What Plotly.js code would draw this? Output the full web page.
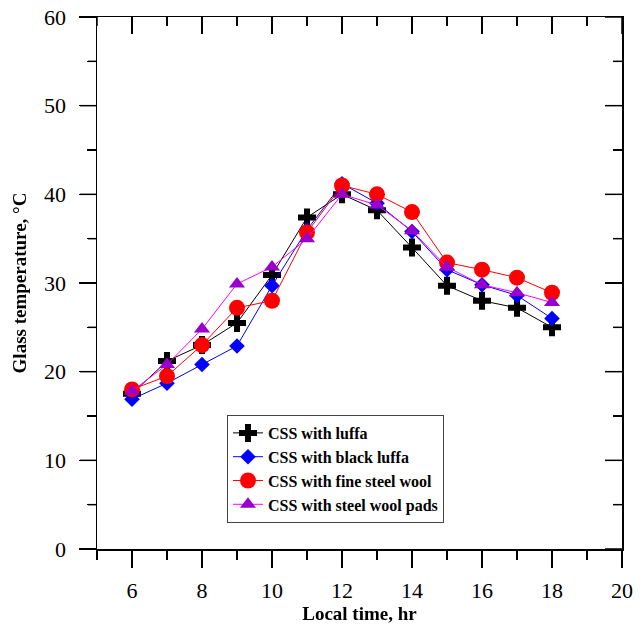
<!DOCTYPE html>
<html>
<head>
<meta charset="utf-8">
<script src="https://cdn.plot.ly/plotly-3.0.1.min.js"></script>
<style>html,body{margin:0;padding:0;background:#fff;}#chart{width:644px;height:625px;}</style>
</head>
<body>
<div id="chart"></div>
<script>
var hours = [6, 7, 8, 9, 10, 11, 12, 13, 14, 15, 16, 17, 18];
var luffa = [17.5, 21.2, 23.0, 25.5, 30.9, 37.4, 40.0, 38.2, 34.0, 29.7, 28.0, 27.2, 25.0];
var blackLuffa = [16.9, 18.7, 20.8, 22.9, 29.7, 36.0, 41.2, 39.0, 35.8, 31.5, 29.8, 28.6, 26.0];
var fineSteelWool = [18.0, 19.5, 23.0, 27.2, 28.0, 35.7, 41.0, 40.0, 38.0, 32.3, 31.5, 30.6, 28.9];
var steelWoolPads = [17.8, 20.8, 24.8, 29.9, 31.8, 35.0, 40.0, 38.8, 35.9, 31.8, 29.8, 28.9, 27.8];
var seriesNames = ["CSS with luffa", "CSS with black luffa", "CSS with fine steel wool", "CSS with steel wool pads"];

var traces = [
  {x: hours, y: luffa, name: seriesNames[0], mode: "lines+markers",
   line: {color: "#000000", width: 1},
   marker: {symbol: "cross", size: 15, color: "#000000"}},
  {x: hours, y: blackLuffa, name: seriesNames[1], mode: "lines+markers",
   line: {color: "#0000FF", width: 1},
   marker: {symbol: "diamond", size: 12, color: "#0000FF"}},
  {x: hours, y: fineSteelWool, name: seriesNames[2], mode: "lines+markers",
   line: {color: "#FF0000", width: 1},
   marker: {symbol: "circle", size: 16, color: "#FF0000"}},
  {x: hours, y: steelWoolPads, name: seriesNames[3], mode: "lines+markers",
   line: {color: "#FF00FF", width: 1},
   marker: {symbol: "triangle-up", size: 14, color: "#9900CC"}},
  // invisible helper trace so the top/right frame axes get drawn
  {x: hours, y: luffa, xaxis: "x2", yaxis: "y2", mode: "markers", opacity: 0,
   showlegend: false, hoverinfo: "skip", marker: {size: 1}}
];

var serif = "Liberation Serif, Times New Roman, serif";
var MAJ = 17, MIN = 9;
var axBase = {showgrid: false, zeroline: false, showline: true, linecolor: "#000", linewidth: 1.5,
  tickcolor: "#000", tickwidth: 1.5, ticklen: MAJ};
function ax(extra) { return Object.assign({}, axBase, extra); }
function minor(dt, dir) { return {dtick: dt, ticks: dir, ticklen: MIN, tickwidth: 1.5, tickcolor: "#000"}; }

// tick marks as shapes (axis coordinates, pixel lengths)
var shapes = [];
var tl = {color: "#000", width: 1.5};
for (var xv = 5; xv <= 20; xv++) {
  var L = (xv % 2 === 0) ? MAJ : MIN;
  shapes.push({type: "line", xref: "x", yref: "paper", x0: xv, x1: xv, ysizemode: "pixel", yanchor: 0, y0: 0, y1: -L, line: tl});
  shapes.push({type: "line", xref: "x", yref: "paper", x0: xv, x1: xv, ysizemode: "pixel", yanchor: 1, y0: 0, y1: -L, line: tl});
}
for (var yv = 0; yv <= 60; yv += 5) {
  var Ly = (yv % 10 === 0) ? MAJ : MIN;
  shapes.push({type: "line", xref: "paper", yref: "y", y0: yv, y1: yv, xsizemode: "pixel", xanchor: 0, x0: 0, x1: -Ly, line: tl});
  shapes.push({type: "line", xref: "paper", yref: "y", y0: yv, y1: yv, xsizemode: "pixel", xanchor: 1, x0: 0, x1: -Ly, line: tl});
}

var layout = {
  width: 644, height: 625,
  margin: {l: 97, r: 22, t: 17, b: 76},
  paper_bgcolor: "#fff", plot_bgcolor: "#fff",
  showlegend: true,
  font: {family: serif, color: "#000"},
  shapes: shapes,
  xaxis: ax({
    range: [5, 20], tickmode: "linear", tick0: 6, dtick: 2, ticks: "outside",
    minor: minor(1, "outside"), ticklabelstandoff: 4,
    tickfont: {family: serif, size: 22, color: "#000"},
    title: {text: "<b>Local time, hr</b>", font: {family: serif, size: 19, color: "#000"}, standoff: 3}
  }),
  yaxis: ax({
    range: [0, 60], tickmode: "linear", tick0: 0, dtick: 10, ticks: "outside",
    minor: minor(5, "outside"), ticklabelstandoff: 8,
    tickfont: {family: serif, size: 22, color: "#000"},
    title: {text: "<b>Glass temperature, °C</b>", font: {family: serif, size: 19, color: "#000"}, standoff: 12}
  }),
  xaxis2: ax({
    overlaying: "x", side: "top", anchor: "y2", range: [5, 20], tickmode: "linear", tick0: 6, dtick: 2, ticks: "inside",
    minor: minor(1, "inside"), showticklabels: false
  }),
  yaxis2: ax({
    overlaying: "y", side: "right", anchor: "x2", range: [0, 60], tickmode: "linear", tick0: 0, dtick: 10, ticks: "inside",
    minor: minor(5, "inside"), showticklabels: false
  }),
  legend: {
    x: 0.2476, y: 0.2519, xanchor: "left", yanchor: "top",
    bgcolor: "#fff", bordercolor: "#444", borderwidth: 1,
    font: {family: serif, size: 16, color: "#000", weight: "bold"},
    tracegroupgap: 0
  }
};

Plotly.newPlot("chart", traces, layout, {displayModeBar: false, staticPlot: true});
</script>
</body>
</html>
